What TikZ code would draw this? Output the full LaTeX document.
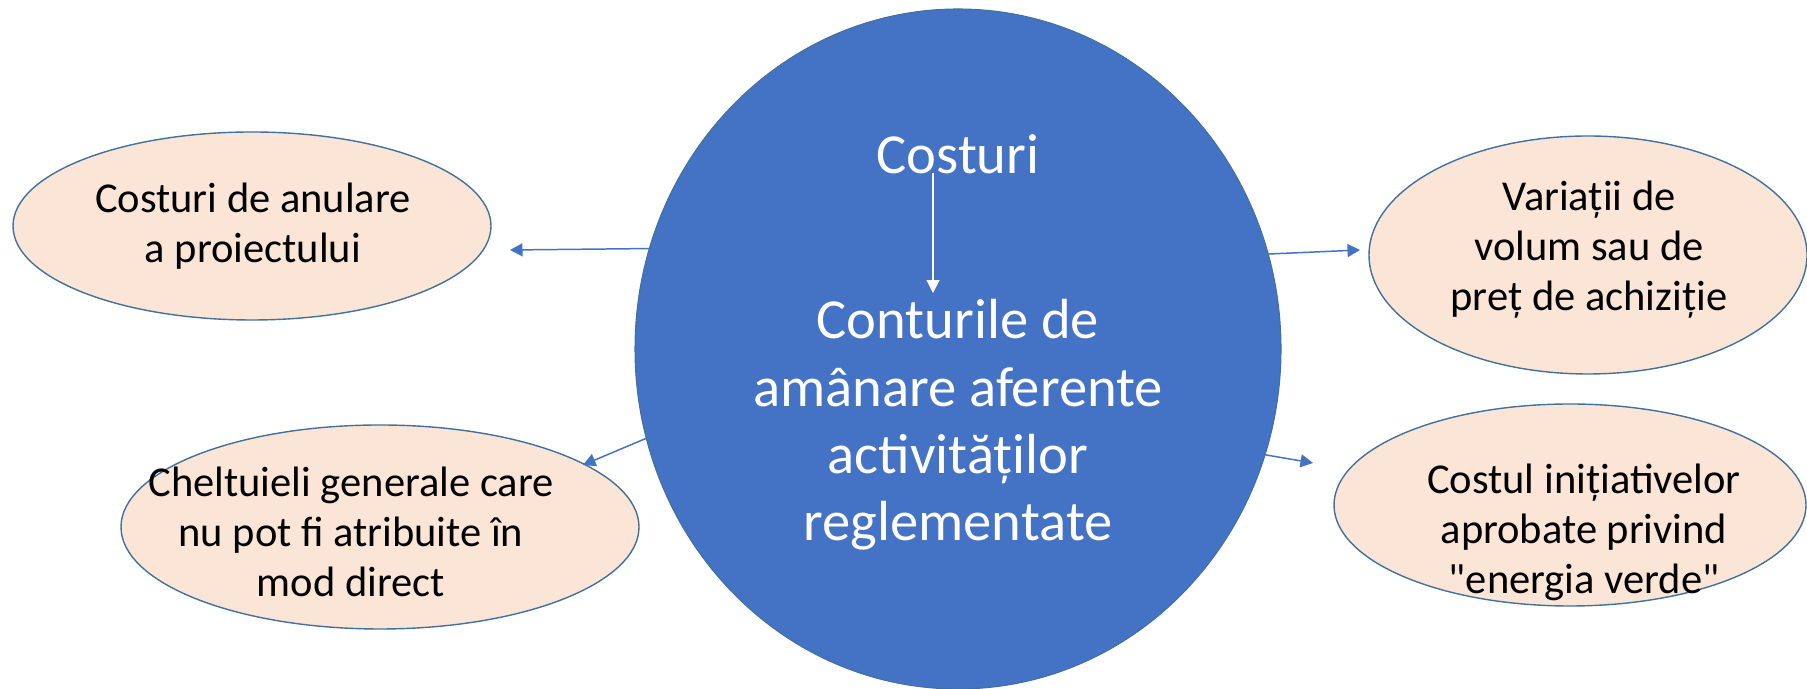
\documentclass[tikz,border=0pt]{standalone}
\usepackage{fontspec}
\setmainfont{Carlito}
\usetikzlibrary{shapes.geometric,arrows.meta}
\definecolor{circblue}{HTML}{4472C4}
\definecolor{ellfill}{HTML}{FBE5D6}
\definecolor{ellline}{HTML}{41719C}

\begin{document}
\begin{tikzpicture}[
    ell/.style={ellipse, draw=ellline, fill=ellfill, line width=0.8pt, inner sep=0pt},
    txt/.style={align=center, font=\fontsize{24.2}{28.5}\selectfont},
    bigtxt/.style={align=center, text=white, font=\fontsize{32.2}{38.4}\selectfont},
    link/.style={draw=circblue, line width=0.85pt, -{Triangle[length=0.25cm, width=0.26cm]}},
    inlink/.style={draw=white, line width=0.6pt, -{Triangle[length=0.26cm, width=0.26cm]}}
]
    \useasboundingbox (0,0) rectangle (36.14,13.78);

    \node[ellipse, draw=ellline, fill=circblue, line width=0.6pt, inner sep=0pt,
          minimum width=12.92cm, minimum height=13.6cm] (circ) at (19.16,6.80) {};
    \node[bigtxt] (costuri) at (19.16,10.70) {Costuri};
    \node[bigtxt] (body) at (19.16,5.28) {Conturile de\\amânare aferente\\activităților\\reglementate};
    \draw[inlink] ([xshift=-0.5cm]costuri.base) -- ([xshift=-0.5cm]costuri.base |- body.north);

    \node[ell, minimum width=9.56cm, minimum height=3.76cm] (e1) at (5.04,9.26) {};
    \node[txt] (t1) at (5.06,9.26) {Costuri de anulare\\a proiectului};

    \node[ell, minimum width=10.36cm, minimum height=4.08cm] (e2) at (7.60,3.24) {};
    \node[txt] (t2) at (7.02,3.14) {Cheltuieli generale care\\nu pot fi atribuite în\\mod direct};

    \node[ell, minimum width=8.76cm, minimum height=4.76cm] (e3) at (31.76,8.68) {};
    \node[txt] (t3) at (31.78,8.78) {Variații de\\volum sau de\\preț de achiziție};

    \node[ell, minimum width=9.44cm, minimum height=4.04cm] (e4) at (31.40,3.68) {};
    \node[txt] (t4) at (31.68,3.14) {Costul inițiativelor\\aprobate privind\\\textquotedbl energia verde\textquotedbl};

    \coordinate (p1) at (10.20,8.78);
    \coordinate (p2) at (11.66,4.48);
    \coordinate (p3) at (27.20,8.78);
    \coordinate (p4) at (26.26,4.52);
    \draw[link] (circ.162.6) -- (p1);
    \draw[link] (circ.196.9) -- (p2);
    \draw[link] (circ.17.5) -- (p3);
    \draw[link] (circ.341.7) -- (p4);
\end{tikzpicture}
\end{document}
